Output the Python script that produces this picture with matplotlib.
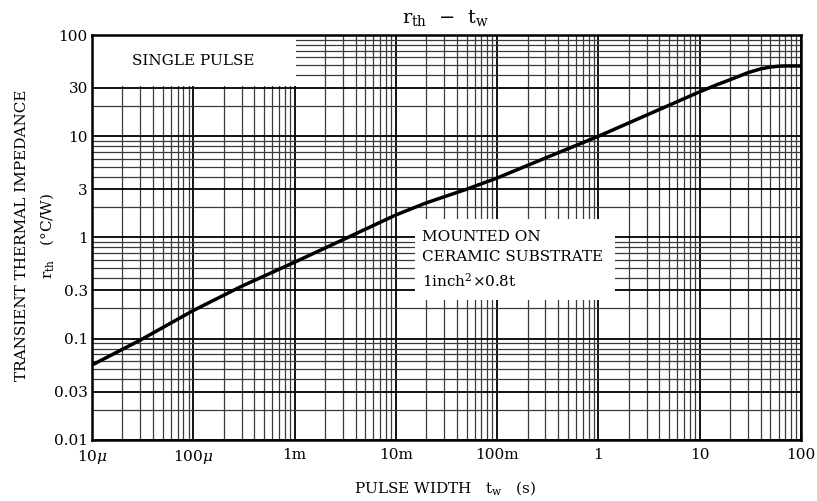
import matplotlib
matplotlib.use('Agg')
import matplotlib.pyplot as plt
from matplotlib.patches import Rectangle

# pulse width (s) vs transient thermal impedance (degC/W)
tw = [1e-5, 3e-5, 1e-4, 3e-4, 1e-3, 3e-3, 1e-2, 2e-2, 5e-2, 1e-1, 3e-1,
      1, 3, 10, 15, 20, 30, 40, 50, 60, 70, 100]
rth = [0.055, 0.097, 0.19, 0.33, 0.57, 0.95, 1.67, 2.2, 3.0, 3.87, 6.1,
       10, 16.2, 27.5, 32.5, 36.2, 42.5, 46.3, 48.3, 49.2, 49.5, 49.5]

xticks = [1e-5, 1e-4, 1e-3, 1e-2, 1e-1, 1, 10, 100]
xlabels = [r'10$\mu$', r'100$\mu$', '1m', '10m', '100m', '1', '10', '100']
yticks = [0.01, 0.03, 0.1, 0.3, 1, 3, 10, 30, 100]
ylabels = ['0.01', '0.03', '0.1', '0.3', '1', '3', '10', '30', '100']

plt.rcParams['font.family'] = ['DejaVu Serif']
plt.rcParams['mathtext.fontset'] = 'dejavuserif'

fig = plt.figure(figsize=(8.17, 5.01), dpi=100)
ax = fig.add_axes([0.1126, 0.1218, 0.8678, 0.8083])

ax.set_xscale('log')
ax.set_yscale('log')
ax.set_xlim(1e-5, 100)
ax.set_ylim(0.01, 100)

ax.set_xticks(xticks)
ax.set_xticklabels(xlabels)
ax.set_yticks(yticks)
ax.set_yticklabels(ylabels)
ax.set_xticks([m * 10.0 ** e for e in range(-5, 2) for m in range(2, 10)], minor=True)
ax.set_yticks([m * 10.0 ** e for e in range(-2, 2) for m in range(2, 10)], minor=True)
ax.tick_params(which='both', length=0, labelsize=11)
ax.tick_params(axis='x', pad=6)
ax.tick_params(axis='y', pad=3)

ax.grid(True, which='major', color='black', lw=1.3)
ax.grid(True, which='minor', color='#3a3a3a', lw=0.9)
for s in ax.spines.values():
    s.set_linewidth(1.8)

# white boxes hiding the grid behind the notes
ax.add_patch(Rectangle((1e-5, 31.5), 1.03e-3 - 1e-5, 100 - 31.5,
                       facecolor='white', edgecolor='none', zorder=2))
ax.add_patch(Rectangle((0.0155, 0.24), 1.46 - 0.0155, 1.52 - 0.24,
                       facecolor='white', edgecolor='none', zorder=2))

ax.plot(tw, rth, color='black', lw=2.5, zorder=3, solid_capstyle='butt')

ax.text(1e-4, 55, 'SINGLE PULSE', ha='center', va='center', fontsize=11, zorder=4)
ax.text(0.018, 0.6, 'MOUNTED ON\nCERAMIC SUBSTRATE\n1inch$^2$×0.8t',
        ha='left', va='center', fontsize=11, linespacing=1.55, zorder=4)

fig.text(0.545, 0.965, r'r$_{\rm th}$  $-$  t$_{\rm w}$', ha='center', va='center', fontsize=14)
fig.text(0.545, 0.025, r'PULSE WIDTH   t$_{\rm w}$   (s)', ha='center', va='center', fontsize=11)
fig.text(0.027, 0.53, 'TRANSIENT THERMAL IMPEDANCE', rotation=90,
         ha='center', va='center', fontsize=11)
fig.text(0.058, 0.53, r'r$_{\rm th}$   (°C/W)', rotation=90,
         ha='center', va='center', fontsize=11)

fig.savefig('out.png', dpi=100)
